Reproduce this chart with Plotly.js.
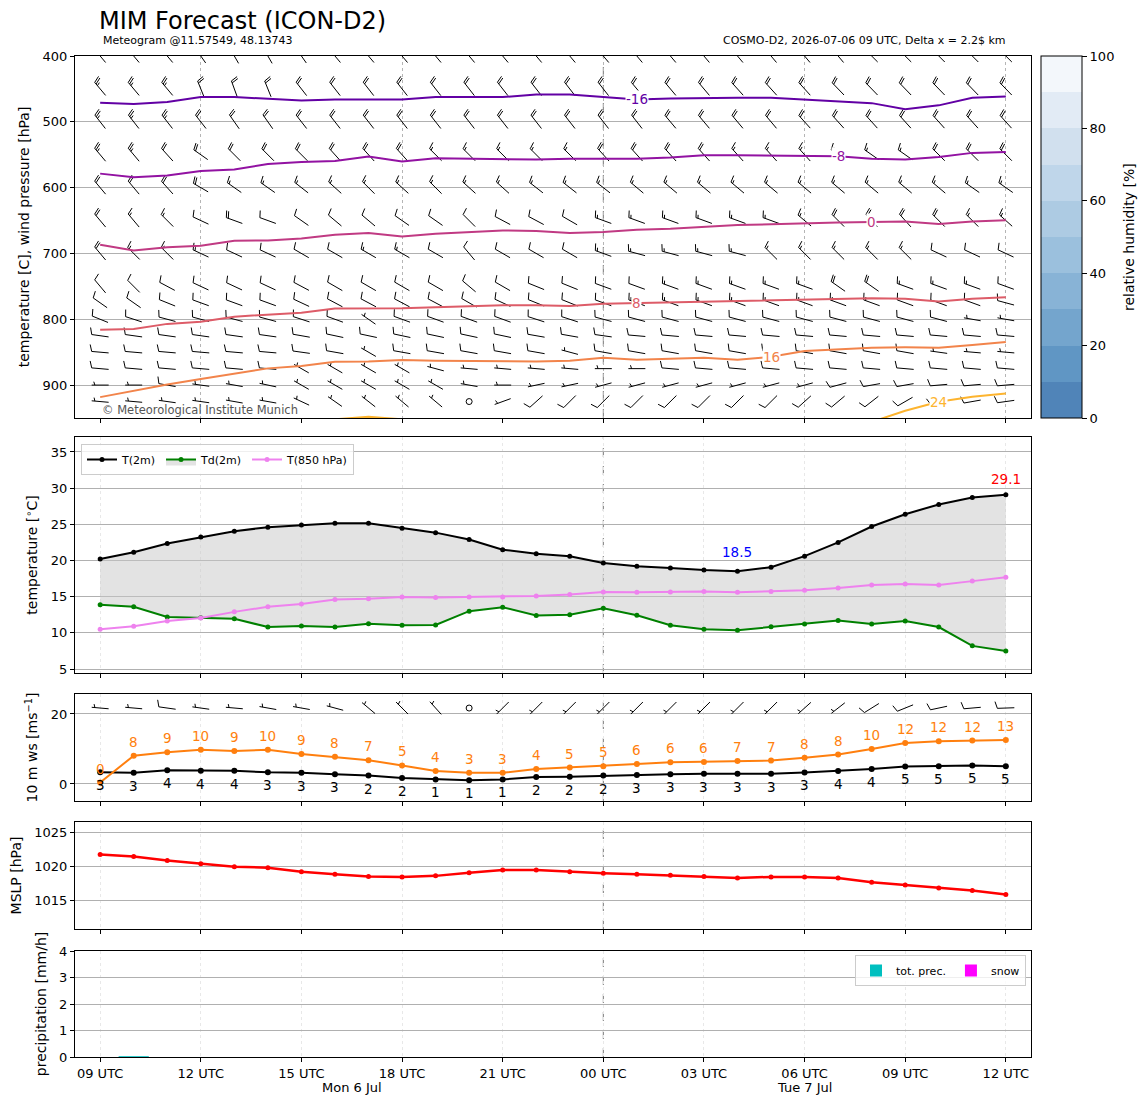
<!DOCTYPE html>
<html><head><meta charset="utf-8">
<script src="https://cdn.plot.ly/plotly-3.0.1.min.js"></script>
<style>html,body{margin:0;padding:0;background:#fff}#chart{width:1148px;height:1105px}</style>
</head><body><div id="chart"></div>
<script>
// ---------------- DATA ----------------
const hours = [0,1,2,3,4,5,6,7,8,9,10,11,12,13,14,15,16,17,18,19,20,21,22,23,24,25,26,27];
const tickHours = [0,3,6,9,12,15,18,21,24,27];
const tickLabels = ['09 UTC','12 UTC','15 UTC','18 UTC','21 UTC','00 UTC','03 UTC','06 UTC','09 UTC','12 UTC'];
const dayLabels = ['Mon 6 Jul','Tue 7 Jul'];
const dayLabelHours = [7.5, 21];

const t2m  = [20.2,21.15,22.35,23.25,24.05,24.6,24.9,25.15,25.15,24.45,23.85,22.9,21.5,20.95,20.6,19.65,19.2,18.95,18.67,18.53,19.08,20.6,22.5,24.7,26.4,27.75,28.7,29.1];
const td2m = [13.9,13.6,12.2,12.1,11.95,10.8,10.95,10.8,11.25,11.05,11.1,13.0,13.55,12.4,12.5,13.4,12.43,11.05,10.5,10.37,10.83,11.24,11.7,11.24,11.65,10.8,8.2,7.5];
const t850 = [10.5,10.9,11.65,12.05,12.9,13.6,14.0,14.6,14.7,14.95,14.9,14.95,14.95,15.1,15.3,15.65,15.6,15.64,15.73,15.6,15.73,15.9,16.2,16.6,16.74,16.6,17.15,17.7];

const ws10   = [3.35,3.2,3.9,3.75,3.75,3.35,3.2,2.8,2.4,1.7,1.3,1.05,1.3,2.0,2.1,2.4,2.6,2.8,2.9,2.9,2.9,3.3,3.7,4.3,5.0,5.1,5.3,5.1];
const gust10 = [0.4,8.1,9.1,9.8,9.4,9.8,8.6,7.8,6.8,5.3,3.7,3.2,3.2,4.3,4.7,5.1,5.7,6.2,6.3,6.6,6.7,7.5,8.4,10.0,11.7,12.2,12.4,12.6];
const dir10  = [275,275,278,278,275,280,280,285,310,315,318,315,225,225,225,225,225,225,225,225,225,228,232,238,248,258,265,268];

const mslp = [1021.7,1021.4,1020.8,1020.35,1019.9,1019.75,1019.15,1018.8,1018.45,1018.4,1018.55,1019.0,1019.4,1019.4,1019.15,1018.95,1018.8,1018.65,1018.45,1018.25,1018.4,1018.4,1018.25,1017.6,1017.2,1016.75,1016.4,1015.8];

const precipTot  = [0,0.03,0,0,0,0,0,0,0,0,0,0,0,0,0,0,0,0,0,0,0,0,0,0,0,0,0,0];
const precipSnow = [0,0,0,0,0,0,0,0,0,0,0,0,0,0,0,0,0,0,0,0,0,0,0,0,0,0,0,0];

const levels = [400,450,500,550,600,650,700,750,775,800,825,850,875,900,925];
const barbDir = [
 [320,320,320,325,330,330,325, 320,320,320,320,320,320,320, 320,320,320,320,320,320,320, 320,320,315,315,315,315,315],
 [320,320,320,338,340,338,322, 322,322,322,322,322,322,322, 322,322,320,320,320,318,318, 318,316,316,316,316,316,316],
 [322,322,322,322,325,325,322, 322,322,322,322,322,322,322, 322,322,322,320,320,320,320, 318,318,318,318,318,318,318],
 [320,320,318,305,315,315,315, 318,318,318,315,315,315,315, 315,318,318,318,318,318,318, 318,305,305,305,315,315,315],
 [320,320,318,300,305,305,308, 312,315,312,315,312,312,308, 308,308,310,310,310,310,310, 310,310,310,310,310,305,305],
 [320,320,315,295,290,290,305, 310,310,305,305,315,298,298, 300,290,290,290,290,290,290, 310,315,318,318,315,315,312],
 [320,315,315,295,295,295,300, 300,300,300,300,320,300,300, 300,290,285,285,285,285,315, 315,315,315,315,295,295,295],
 [320,315,298,295,295,295,298, 300,300,300,300,310,300,292, 292,290,290,290,290,290,290, 290,305,305,290,290,290,290],
 [305,305,292,290,290,290,295, 298,298,298,298,300,295,292, 292,290,290,290,290,290,290, 290,290,290,290,290,290,285],
 [292,288,285,285,285,285,288, 290,305,290,290,290,290,288, 288,285,285,285,285,285,285, 285,285,285,285,285,280,280],
 [278,278,278,278,278,278,280, 282,282,282,282,282,282,280, 280,278,275,275,275,275,275, 275,275,275,275,275,275,275],
 [275,275,275,275,275,275,278, 280,300,280,280,280,280,280, 285,280,280,280,280,280,280, 280,280,280,280,278,275,275],
 [275,275,275,275,275,275,300, 300,300,300,285,275,275,275, 275,270,270,275,275,275,275, 275,275,275,275,275,275,275],
 [270,270,280,278,280,282,300, 300,300,300,300,280,270,258, 258,255,255,255,255,255,255, 255,255,260,260,265,265,265],
 [275,275,278,278,280,280,295, 305,308,310,310,300,250,228, 225,225,225,225,225,225,225, 228,230,232,240,250,260,262]
];
const barbSpd = [
 [30,30,30,30,30,30,30, 30,30,30,25,25,25,25, 25,25,25,25,25,25,25, 25,25,25,25,25,25,25],
 [25,25,25,20,20,20,20, 20,20,20,20,20,20,20, 20,20,20,20,20,20,20, 20,20,20,20,20,20,20],
 [25,25,25,20,20,20,20, 20,20,20,20,20,20,20, 20,20,20,20,20,20,20, 20,20,20,20,20,20,20],
 [25,25,20,20,20,20,20, 20,20,20,15,15,15,15, 15,20,20,20,20,15,15, 15,15,15,15,20,20,20],
 [20,20,20,20,15,15,15, 15,15,15,15,15,15,15, 15,15,15,15,15,15,15, 15,15,15,15,15,15,15],
 [20,15,15,10,20,10,10, 10,10,10,10,10,10,10, 10,15,15,15,15,15,15, 15,20,20,20,20,15,15],
 [20,15,15,15,10,10,10, 10,15,15,10,10,10,10, 10,15,15,15,15,15,15, 15,15,15,15,10,10,10],
 [10,10,10,10,10,10,10, 10,10,10,10,10,10,10, 10,10,10,15,15,15,15, 15,20,20,15,15,15,10],
 [10,10,10,10,10,10,10, 10,10,10,10,10,10,10, 10,10,15,15,15,15,15, 15,15,15,10,10,10,10],
 [10,10,10,10,10,10,10, 10,5,10,10,10,10,10, 10,10,10,10,10,10,10, 10,10,10,10,10,5,5],
 [10,10,10,10,10,10,10, 10,10,10,10,10,10,10, 10,10,10,10,10,10,10, 10,10,10,10,10,10,10],
 [10,10,10,10,10,10,10, 10,5,10,10,10,10,10, 5,10,10,10,10,10,10, 10,10,10,10,5,5,5],
 [10,10,10,10,10,10,5, 5,5,5,5,5,5,5, 5,5,5,10,10,10,10, 10,10,10,10,10,10,10],
 [5,5,10,5,5,5,5, 5,5,5,5,5,5,5, 5,5,5,5,5,5,5, 5,10,10,10,10,10,10],
 [5,5,5,5,5,5,5, 5,5,5,5,0,5,10, 10,10,10,10,10,10,10, 10,10,10,10,10,10,10]
];

const isoLevels = [-16,-8,0,8,16,24];
const isoM16 = [471,473,470,462.4,462.4,465,467.5,466,466,466,462.4,462.4,462.4,458.4,458.4,462.4,466,464.5,463.5,463.5,463.5,466,469,471.6,480.7,475,463.5,461.4];
const isoM8  = [578.7,584.3,581.7,574.6,572.6,564,561,559.4,552.8,560.4,555.3,556.3,556.3,557.4,556.3,556.3,556.3,554.3,550.8,550.8,551.3,551.8,552.3,556.3,557.4,553.3,547.2,545.7];
const iso0   = [686.8,695.4,690.4,688.3,680.7,680.2,677.2,671.6,669,674.1,670,667.5,665,666,669,667.5,664,662.4,659.4,656.9,655.8,653.8,652.8,652.3,651.3,655.3,651.3,649.7];
const iso8   = [816,814.7,807,803.6,796,793.4,790,783.8,783.8,783.2,781.7,779.7,778.7,778.7,779.7,776.6,775.6,774.6,773.1,772.1,772.1,771,770,768,769,773.1,769,766.5];
const iso16  = [918.3,908.6,899,890.9,882.2,874.6,871,864.5,864,862,863,863.5,864,864,863,858.4,861.4,860,858.4,861.4,857,848.2,845.7,843.1,842.6,843.1,839,834.5];
const iso24  = [null,null,null,null,null,null,null,952,948,952,null,null,null,null,null,null,null,null,null,null,null,null,null,956,939,925.4,917.8,912.7];
const isoLabelIdx = [16,22,23,16,20,25];
const rhTicks = [0,20,40,60,80,100];

// ---------------- LAYOUT GEOMETRY / STYLE ----------------
const W = 1148, H = 1105;
const PX0 = 75, PX1 = 1031;
const xDom = [PX0/W, PX1/W];
const xRange = [-0.75, 27.75];
const pxPerHour = (PX1-PX0)/(xRange[1]-xRange[0]);
function yDom(t,b){ return [1-b/H, 1-t/H]; }
const P_TOP  = {t:56, b:418, range:[950,400]};
const P_TEMP = {t:437, b:673, range:[4.45,37.07]};
const P_WIND = {t:694, b:801, range:[-4.86,25.71]};
const P_MSLP = {t:822, b:929, range:[1010.74,1026.47]};
const P_PREC = {t:951, b:1057, range:[0,4]};
const FONT = 'DejaVu Sans';
const isoColors = ['#6200a4','#9212a2','#c03a83','#dd5c68','#f2844b','#fdb42f'];
const rhColors = ['#5084b8','#6096c4','#74a5cd','#88b3d6','#9bc0dd','#adcbe3','#bfd6ea','#d1e0ee','#e2ebf5','#f3f7fb'];
const KT_PER_MS = 1.9438;

// ---------------- BARBS ----------------
function makeBarbs(panel){
  return {seg:{x:[],y:[]}, calm:{x:[],y:[]}, ky:(panel.range[1]-panel.range[0])/(panel.b-panel.t)};
}
function addBarb(B, cx, cy, dirDeg, kt){
  const L=17, HH=0.4*L, WD=0.25*L, S=0.125*L;
  const mag = 5*Math.round(kt/5);
  if (mag < 5){ B.calm.x.push(cx); B.calm.y.push(cy); return; }
  const r = dirDeg*Math.PI/180, ux=Math.sin(r), uy=Math.cos(r), nx=uy, ny=-ux;
  const kx = 1/pxPerHour, ky = B.ky;
  const P = (a,p) => [cx + (ux*(a-L/2) + nx*p)*kx, cy + (uy*(a-L/2) + ny*p)*ky];
  const line = (A,C) => { B.seg.x.push(A[0],C[0],null); B.seg.y.push(A[1],C[1],null); };
  line(P(0,0), P(L,0));
  const nFlag = Math.floor(mag/50); let rest = mag-50*nFlag;
  const nFull = Math.floor(rest/10); const half = (rest-10*nFull) >= 5;
  let off = L;
  for (let i=0;i<nFlag;i++){
    const A=P(off,0), Bq=P(off-WD/2,HH), C=P(off-WD,0);
    B.seg.x.push(A[0],Bq[0],C[0],null); B.seg.y.push(A[1],Bq[1],C[1],null);
    off -= WD+S;
  }
  for (let i=0;i<nFull;i++){ line(P(off,0), P(off+WD/2,HH)); off -= S; }
  if (half){ if (off===L) off -= 1.5*S; line(P(off,0), P(off+WD/4,HH/2)); }
}
const barbTop = makeBarbs(P_TOP);
barbTop.ky = -(P_TOP.range[0]-P_TOP.range[1])/(P_TOP.b-P_TOP.t);
levels.forEach((p,li)=>hours.forEach((h,i)=>addBarb(barbTop, h, p, barbDir[li][i], barbSpd[li][i])));
const barbWind = makeBarbs(P_WIND);
const BARB10_Y = 21.7;
hours.forEach((h,i)=>addBarb(barbWind, h, BARB10_Y, dir10[i], ws10[i]*KT_PER_MS));

// ---------------- TRACES ----------------
const data = [];
data.push({type:'scatter', mode:'lines', x:barbTop.seg.x, y:barbTop.seg.y, xaxis:'x', yaxis:'y', line:{color:'#000', width:1}, showlegend:false, hoverinfo:'skip'});
data.push({type:'scatter', mode:'markers', x:barbTop.calm.x, y:barbTop.calm.y, xaxis:'x', yaxis:'y', marker:{symbol:'circle-open', size:6, color:'#000', line:{width:1}}, showlegend:false, hoverinfo:'skip'});
const isoSeries = [isoM16, isoM8, iso0, iso8, iso16, iso24];
isoSeries.forEach((s,k)=>data.push({type:'scatter', mode:'lines', x:hours, y:s, xaxis:'x', yaxis:'y', line:{color:isoColors[k], width:2}, connectgaps:false, showlegend:false, hoverinfo:'skip'}));
// colorbar (relative humidity scale)
const rhScale = [];
rhColors.forEach((c,i)=>{ rhScale.push([i/rhColors.length, c]); rhScale.push([(i+1)/rhColors.length, c]); });
data.push({type:'scatter', mode:'markers', x:[hours[0]], y:[levels[0]], xaxis:'x', yaxis:'y', showlegend:false, hoverinfo:'skip',
  marker:{size:1, opacity:0, color:[rhTicks[0]], cmin:rhTicks[0], cmax:rhTicks[rhTicks.length-1], colorscale:rhScale, showscale:true,
    colorbar:{x:1041/W, xanchor:'left', xpad:0, ypad:0, y:1-P_TOP.t/H, yanchor:'top', len:(P_TOP.b-P_TOP.t)/H, lenmode:'fraction',
      thickness:41, thicknessmode:'pixels', outlinewidth:1, outlinecolor:'#000', tickvals:rhTicks, ticks:'outside', ticklen:5, tickcolor:'#000',
      tickfont:{family:FONT, size:13, color:'#000'}}}});

// temperature panel
data.push({type:'scatter', mode:'lines+markers', name:'T(2m)', x:hours, y:t2m, xaxis:'x2', yaxis:'y2', line:{color:'#000', width:2}, marker:{size:5, color:'#000'}, legend:'legend'});
data.push({type:'scatter', mode:'lines+markers', name:'Td(2m)', x:hours, y:td2m, xaxis:'x2', yaxis:'y2', line:{color:'#008000', width:2}, marker:{size:5, color:'#008000'}, fill:'tonexty', fillcolor:'rgba(200,200,200,0.5)', legend:'legend'});
data.push({type:'scatter', mode:'lines+markers', name:'T(850 hPa)', x:hours, y:t850, xaxis:'x2', yaxis:'y2', line:{color:'#ee82ee', width:2}, marker:{size:5, color:'#ee82ee'}, legend:'legend'});

// wind panel
data.push({type:'scatter', mode:'lines', x:barbWind.seg.x, y:barbWind.seg.y, xaxis:'x3', yaxis:'y3', line:{color:'#000', width:1}, showlegend:false, hoverinfo:'skip'});
data.push({type:'scatter', mode:'markers', x:barbWind.calm.x, y:barbWind.calm.y, xaxis:'x3', yaxis:'y3', marker:{symbol:'circle-open', size:6, color:'#000', line:{width:1}}, showlegend:false, hoverinfo:'skip'});
data.push({type:'scatter', mode:'lines+markers', x:hours, y:ws10, xaxis:'x3', yaxis:'y3', line:{color:'#000', width:2}, marker:{size:6, color:'#000'}, showlegend:false});
data.push({type:'scatter', mode:'lines+markers', x:hours, y:gust10, xaxis:'x3', yaxis:'y3', line:{color:'#ff7f0e', width:2}, marker:{size:6, color:'#ff7f0e'}, showlegend:false});

// mslp
data.push({type:'scatter', mode:'lines+markers', x:hours, y:mslp, xaxis:'x4', yaxis:'y4', line:{color:'#ff0000', width:2.5}, marker:{size:5, color:'#ff0000'}, showlegend:false});

// precip
data.push({type:'bar', name:'tot. prec.', x:hours, y:precipTot, width:0.9, xaxis:'x5', yaxis:'y5', marker:{color:'#00bfbf'}, legend:'legend2'});
data.push({type:'bar', name:'snow', x:hours, y:precipSnow, width:0.9, xaxis:'x5', yaxis:'y5', marker:{color:'#ff00ff'}, legend:'legend2'});

// ---------------- AXES ----------------
const tickFont = {family:FONT, size:13, color:'#000'};
function xAxis(anchor, labels, top){
  const a = {domain:xDom, range:xRange, anchor:anchor, ticks:'outside', ticklen:4, tickcolor:'#000',
    showline:true, linecolor:'#000', linewidth:1, mirror:true, zeroline:false, tickfont:tickFont, showticklabels:labels};
  if (top){
    a.tickmode='linear'; a.tick0=tickHours[1]; a.dtick=6; a.showgrid=true; a.gridcolor='#b5b5b5'; a.griddash='dot'; a.gridwidth=1;
    a.minor={tick0:tickHours[0], dtick:3, ticks:'outside', ticklen:4, tickcolor:'#000', showgrid:false};
  } else {
    a.tickmode='array'; a.tickvals=tickHours; a.ticktext=tickLabels; a.showgrid=true; a.gridcolor='#e8e8e8'; a.griddash='dot'; a.gridwidth=1;
  }
  return a;
}
function yAxis(anchor, panel, tickvals, title){
  return {domain:yDom(panel.t,panel.b), range:panel.range, anchor:anchor, tickmode:'array', tickvals:tickvals,
    ticks:'outside', ticklen:4, tickcolor:'#000', showline:true, linecolor:'#000', linewidth:1, mirror:true,
    showgrid:true, gridcolor:'#b0b0b0', gridwidth:1, zeroline:false, tickfont:tickFont,
    title:{text:title, standoff:9, font:{family:FONT, size:14, color:'#000'}}};
}

// ---------------- ANNOTATIONS ----------------
const ann = [];
ann.push({xref:'paper', yref:'paper', x:101/W, y:1-41/H, xanchor:'left', yanchor:'middle', showarrow:false, text:'Meteogram @11.57549, 48.13743', font:{family:FONT, size:11, color:'#000'}});
ann.push({xref:'paper', yref:'paper', x:1008/W, y:1-41/H, xanchor:'right', yanchor:'middle', showarrow:false, text:'COSMO-D2, 2026-07-06 09 UTC, Delta x = 2.2$ km', font:{family:FONT, size:11, color:'#000'}});
ann.push({xref:'paper', yref:'paper', x:100/W, y:1-410/H, xanchor:'left', yanchor:'middle', showarrow:false, text:'© Meteorological Institute Munich', font:{family:FONT, size:11.5, color:'#555'}});
ann.push({xref:'paper', yref:'paper', x:1129/W, y:1-237/H, xanchor:'center', yanchor:'middle', showarrow:false, textangle:-90, text:'relative humidity [%]', font:{family:FONT, size:14, color:'#000'}});
dayLabels.forEach((d,i)=>ann.push({xref:'x5', yref:'paper', x:dayLabelHours[i], y:1-1087/H, xanchor:'center', yanchor:'middle', showarrow:false, text:d, font:tickFont}));
isoSeries.forEach((s,k)=>{ const i=isoLabelIdx[k]; ann.push({xref:'x', yref:'y', x:hours[i], y:s[i], showarrow:false, text:String(isoLevels[k]), bgcolor:'#ffffff', borderpad:0, font:{family:FONT, size:13.5, color:isoColors[k]}}); });
const tMax = Math.max(...t2m), tMin = Math.min(...t2m);
const iMax = t2m.indexOf(tMax), iMin = t2m.indexOf(tMin);
ann.push({xref:'x2', yref:'y2', x:hours[iMax], y:tMax, showarrow:false, yshift:16, text:tMax.toFixed(1), font:{family:FONT, size:13.5, color:'#ff0000'}});
ann.push({xref:'x2', yref:'y2', x:hours[iMin], y:tMin, showarrow:false, yshift:19, text:tMin.toFixed(1), font:{family:FONT, size:13.5, color:'#0000ff'}});
ws10.forEach((v,i)=>ann.push({xref:'x3', yref:'y3', x:hours[i], y:v, showarrow:false, yshift:-13, text:String(Math.round(v)), font:{family:FONT, size:13.5, color:'#000'}}));
gust10.forEach((v,i)=>ann.push({xref:'x3', yref:'y3', x:hours[i], y:v, showarrow:false, yshift:14, text:String(Math.round(v)), font:{family:FONT, size:13.5, color:'#ff7f0e'}}));

// midnight dashed lines
const midHour = tickHours[tickLabels.indexOf('00 UTC')];
const shapes = ['','2','3','4','5'].map(s=>({type:'line', xref:'x'+s, yref:'y'+s+' domain', x0:midHour, x1:midHour, y0:0, y1:1, layer:'below', line:{color:'#777', width:1, dash:'dash'}}));

const layout = {
  width:W, height:H, margin:{l:0,r:0,t:0,b:0}, paper_bgcolor:'#fff', plot_bgcolor:'#fff',
  font:{family:FONT, color:'#000'},
  title:{text:'MIM Forecast (ICON-D2)', x:99/W, xanchor:'left', xref:'container', y:1-21/H, yanchor:'middle', yref:'container', font:{family:FONT, size:24, color:'#000'}},
  barmode:'overlay', hovermode:false,
  xaxis:xAxis('y', false, true),
  xaxis2:xAxis('y2', false, false),
  xaxis3:xAxis('y3', false, false),
  xaxis4:xAxis('y4', false, false),
  xaxis5:xAxis('y5', true, false),
  yaxis:yAxis('x', P_TOP, [400,500,600,700,800,900], 'temperature [C], wind pressure [hPa]'),
  yaxis2:yAxis('x2', P_TEMP, [5,10,15,20,25,30,35], 'temperature [<sup>∘</sup>C]'),
  yaxis3:yAxis('x3', P_WIND, [0,20], '10 m ws [ms<sup>−1</sup>]'),
  yaxis4:yAxis('x4', P_MSLP, [1015,1020,1025], 'MSLP [hPa]'),
  yaxis5:yAxis('x5', P_PREC, [0,1,2,3,4], 'precipitation [mm/h]'),
  legend:{x:81/W, y:1-444/H, xanchor:'left', yanchor:'top', orientation:'h', traceorder:'normal', bgcolor:'rgba(255,255,255,0.8)', bordercolor:'#cccccc', borderwidth:1, font:{family:FONT, size:11, color:'#000'}},
  legend2:{x:1026/W, y:1-955/H, xanchor:'right', yanchor:'top', orientation:'h', traceorder:'normal', bgcolor:'rgba(255,255,255,0.8)', bordercolor:'#cccccc', borderwidth:1, font:{family:FONT, size:11, color:'#000'}},
  annotations:ann, shapes:shapes
};
Plotly.newPlot('chart', data, layout, {displayModeBar:false, staticPlot:true});
</script></body></html>
